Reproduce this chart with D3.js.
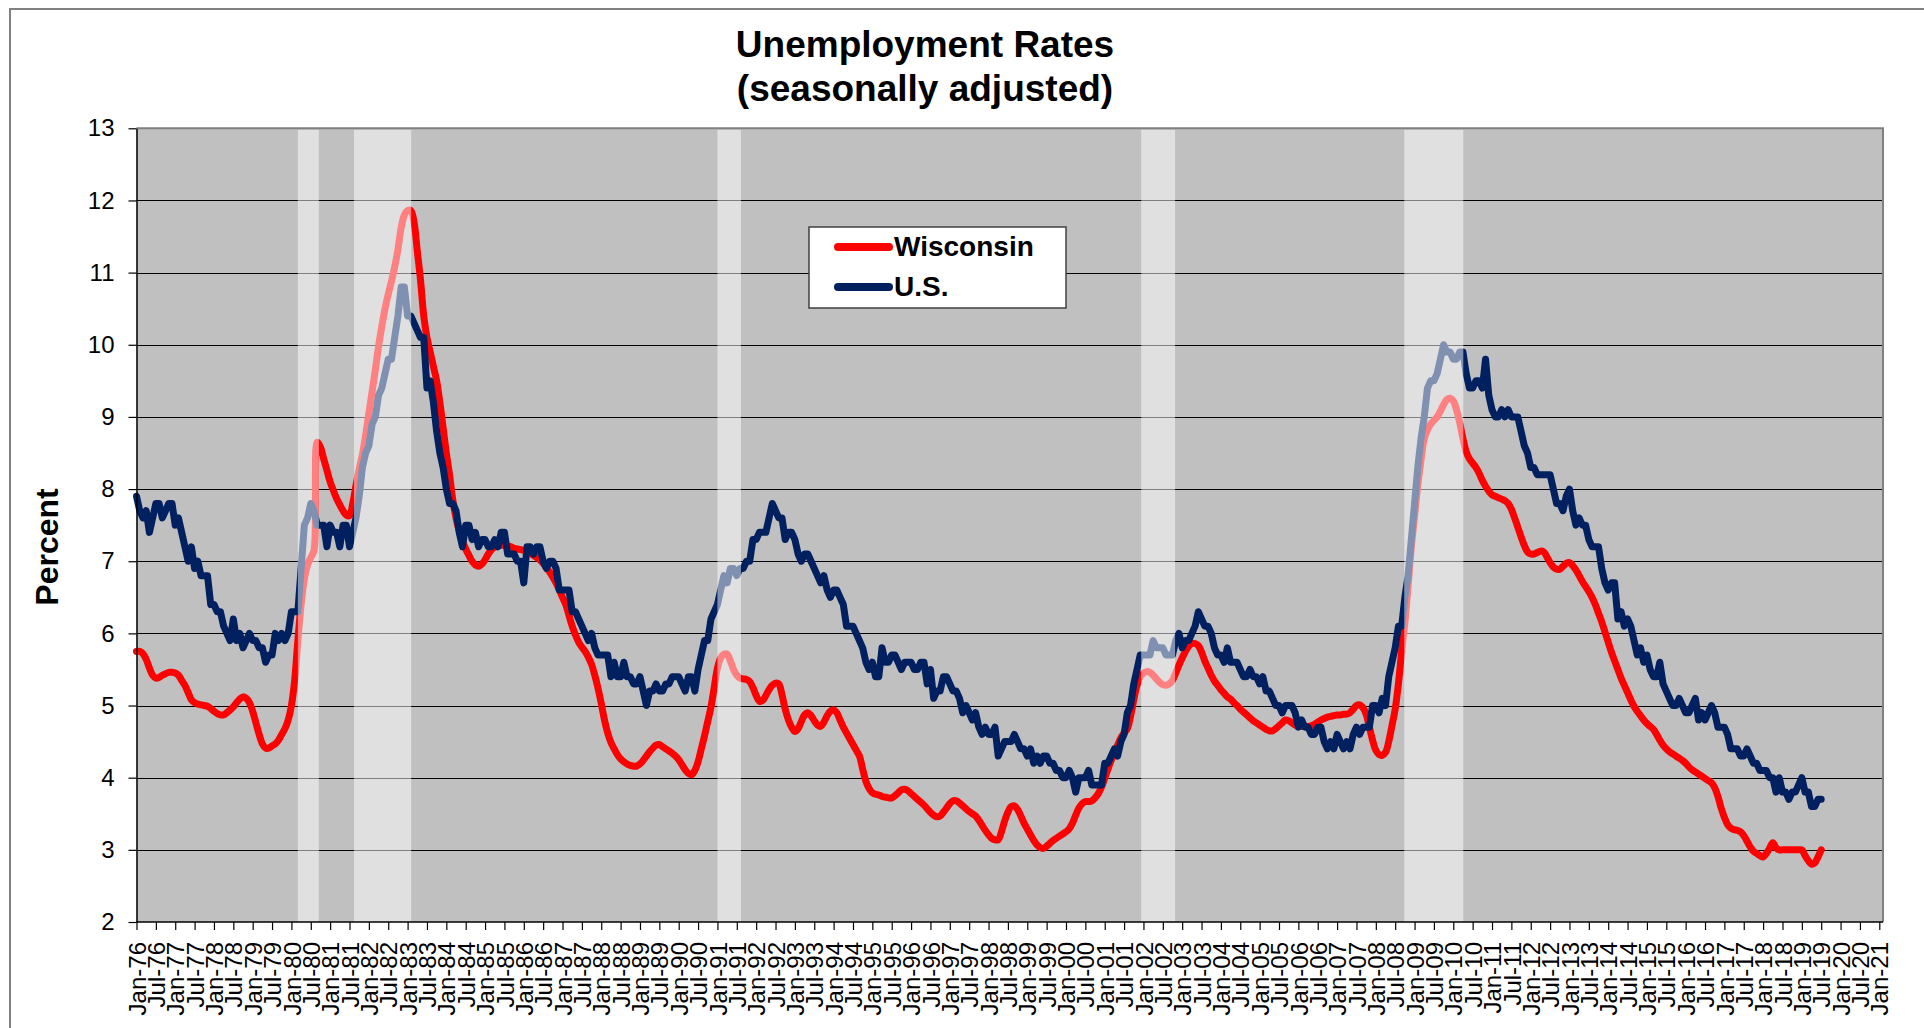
<!DOCTYPE html>
<html>
<head>
<meta charset="utf-8">
<script src="https://cdn.jsdelivr.net/npm/d3@7"></script>
<style>
html,body{margin:0;padding:0;background:#fff;overflow:hidden}
text{font-family:"Liberation Sans",Arial,Helvetica,sans-serif}
</style>
</head>
<body>
<svg id="chart" width="1924" height="1028"></svg>
<script>
// ---------------- DATA ----------------
const startYear = 1976;              // first month of the series = Jan-76
const seriesNames = ["Wisconsin", "U.S."];

// Wisconsin, monthly, Jan-76 .. Jul-19
const wisconsin = [
  5.75,5.75,5.72,5.64,5.52,5.42,5.38,5.39,5.42,5.44,5.46,5.46,
  5.45,5.42,5.35,5.28,5.18,5.08,5.04,5.02,5.01,5.00,4.99,4.96,
  4.92,4.89,4.87,4.87,4.90,4.94,4.98,5.04,5.09,5.12,5.10,5.04,
  4.92,4.76,4.60,4.47,4.41,4.41,4.44,4.47,4.52,4.60,4.68,4.80,
  5.00,5.35,5.90,6.40,6.75,6.95,7.05,7.15,8.65,8.58,8.42,8.26,
  8.10,7.98,7.87,7.78,7.70,7.64,7.63,7.80,8.05,8.28,8.48,8.75,
  9.05,9.35,9.65,9.98,10.25,10.50,10.70,10.88,11.08,11.32,11.62,11.80,
  11.86,11.86,11.70,11.30,10.90,10.40,10.10,9.90,9.70,9.50,9.20,8.85,
  8.50,8.20,7.85,7.60,7.42,7.28,7.17,7.08,7.00,6.95,6.93,6.96,
  7.02,7.10,7.16,7.20,7.22,7.22,7.22,7.21,7.20,7.18,7.17,7.16,
  7.15,7.13,7.11,7.08,7.05,7.02,6.97,6.91,6.85,6.78,6.70,6.60,
  6.50,6.40,6.25,6.10,5.98,5.88,5.81,5.75,5.67,5.57,5.42,5.24,
  5.03,4.80,4.62,4.49,4.40,4.32,4.26,4.22,4.19,4.17,4.16,4.16,
  4.19,4.24,4.30,4.36,4.41,4.45,4.46,4.43,4.40,4.37,4.34,4.30,
  4.25,4.18,4.11,4.06,4.04,4.10,4.22,4.40,4.58,4.78,4.98,5.25,
  5.52,5.66,5.71,5.71,5.62,5.50,5.42,5.38,5.37,5.36,5.33,5.25,
  5.14,5.06,5.07,5.14,5.22,5.28,5.31,5.30,5.15,4.95,4.80,4.70,
  4.64,4.68,4.78,4.87,4.90,4.86,4.79,4.73,4.71,4.77,4.86,4.92,
  4.94,4.90,4.80,4.70,4.62,4.54,4.46,4.38,4.30,4.12,3.95,3.85,
  3.79,3.77,3.76,3.74,3.73,3.72,3.72,3.75,3.79,3.83,3.84,3.82,
  3.78,3.74,3.70,3.66,3.62,3.57,3.52,3.48,3.46,3.47,3.52,3.58,
  3.64,3.68,3.68,3.65,3.61,3.57,3.53,3.50,3.47,3.41,3.34,3.27,
  3.21,3.16,3.14,3.14,3.25,3.40,3.52,3.60,3.61,3.56,3.47,3.37,
  3.29,3.21,3.13,3.07,3.03,3.02,3.05,3.09,3.13,3.16,3.19,3.22,
  3.25,3.29,3.37,3.48,3.58,3.64,3.67,3.67,3.68,3.72,3.78,3.87,
  3.99,4.12,4.24,4.34,4.45,4.55,4.62,4.68,4.85,5.08,5.28,5.40,
  5.45,5.47,5.46,5.42,5.37,5.32,5.29,5.28,5.30,5.35,5.45,5.56,
  5.66,5.75,5.82,5.86,5.86,5.83,5.74,5.62,5.52,5.42,5.34,5.28,
  5.22,5.17,5.12,5.09,5.04,5.00,4.95,4.91,4.87,4.83,4.79,4.76,
  4.73,4.70,4.67,4.65,4.65,4.68,4.72,4.76,4.80,4.79,4.76,4.73,
  4.71,4.71,4.71,4.71,4.72,4.74,4.77,4.80,4.82,4.84,4.85,4.86,
  4.87,4.87,4.88,4.88,4.90,4.95,5.00,5.01,4.97,4.88,4.70,4.52,
  4.38,4.32,4.31,4.35,4.50,4.72,4.95,5.30,5.75,6.15,6.65,7.20,
  7.62,8.05,8.40,8.70,8.82,8.90,8.95,9.00,9.08,9.17,9.24,9.26,
  9.22,9.10,8.92,8.70,8.52,8.42,8.36,8.30,8.22,8.12,8.04,7.97,
  7.92,7.90,7.88,7.86,7.84,7.80,7.72,7.60,7.47,7.34,7.22,7.13,
  7.10,7.10,7.12,7.14,7.13,7.06,6.98,6.92,6.89,6.89,6.93,6.97,
  6.98,6.94,6.88,6.80,6.72,6.65,6.58,6.50,6.40,6.28,6.16,6.02,
  5.88,5.74,5.62,5.50,5.38,5.28,5.18,5.08,4.99,4.92,4.86,4.80,
  4.75,4.71,4.67,4.60,4.52,4.45,4.40,4.36,4.33,4.30,4.27,4.24,
  4.20,4.15,4.11,4.08,4.05,4.02,3.99,3.96,3.93,3.86,3.74,3.58,
  3.45,3.35,3.30,3.28,3.27,3.25,3.20,3.12,3.04,2.98,2.95,2.92,
  2.90,2.95,3.02,3.10,3.03,3.00,3.00,3.00,3.00,3.00,3.00,3.00,
  3.00,2.92,2.85,2.80,2.82,2.90,3.00
];

// U.S., monthly, Jan-76 .. Jul-19
const unitedStates = [
  7.9,7.7,7.6,7.7,7.4,7.6,7.8,7.8,7.6,7.7,7.8,7.8,
  7.5,7.6,7.4,7.2,7.0,7.2,6.9,7.0,6.8,6.8,6.8,6.4,
  6.4,6.3,6.3,6.1,6.0,5.9,6.2,5.9,6.0,5.8,5.9,6.0,
  5.9,5.9,5.8,5.8,5.6,5.7,5.7,6.0,5.9,6.0,5.9,6.0,
  6.3,6.3,6.3,6.9,7.5,7.6,7.8,7.7,7.5,7.5,7.5,7.2,
  7.5,7.4,7.4,7.2,7.5,7.5,7.2,7.4,7.6,7.9,8.3,8.5,
  8.6,8.9,9.0,9.3,9.4,9.6,9.8,9.8,10.1,10.4,10.8,10.8,
  10.4,10.4,10.3,10.2,10.1,10.1,9.4,9.5,9.2,8.8,8.5,8.3,
  8.0,7.8,7.8,7.7,7.4,7.2,7.5,7.5,7.3,7.4,7.2,7.3,
  7.3,7.2,7.2,7.3,7.2,7.4,7.4,7.1,7.1,7.1,7.0,7.0,
  6.7,7.2,7.2,7.1,7.2,7.2,7.0,6.9,7.0,7.0,6.9,6.6,
  6.6,6.6,6.6,6.3,6.3,6.2,6.1,6.0,5.9,6.0,5.8,5.7,
  5.7,5.7,5.7,5.4,5.6,5.4,5.4,5.6,5.4,5.4,5.3,5.3,
  5.4,5.2,5.0,5.2,5.2,5.3,5.2,5.2,5.3,5.3,5.4,5.4,
  5.4,5.3,5.2,5.4,5.4,5.2,5.5,5.7,5.9,5.9,6.2,6.3,
  6.4,6.6,6.8,6.7,6.9,6.9,6.8,6.9,6.9,7.0,7.0,7.3,
  7.3,7.4,7.4,7.4,7.6,7.8,7.7,7.6,7.6,7.3,7.4,7.4,
  7.3,7.1,7.0,7.1,7.1,7.0,6.9,6.8,6.7,6.8,6.6,6.5,
  6.6,6.6,6.5,6.4,6.1,6.1,6.1,6.0,5.9,5.8,5.6,5.5,
  5.6,5.4,5.4,5.8,5.6,5.6,5.7,5.7,5.6,5.5,5.6,5.6,
  5.6,5.5,5.5,5.6,5.6,5.3,5.5,5.1,5.2,5.2,5.4,5.4,
  5.3,5.2,5.2,5.1,4.9,5.0,4.9,4.8,4.9,4.7,4.6,4.7,
  4.6,4.6,4.7,4.3,4.4,4.5,4.5,4.5,4.6,4.5,4.4,4.4,
  4.3,4.4,4.2,4.3,4.2,4.3,4.3,4.2,4.2,4.1,4.1,4.0,
  4.0,4.1,4.0,3.8,4.0,4.0,4.0,4.1,3.9,3.9,3.9,3.9,
  4.2,4.2,4.3,4.4,4.3,4.5,4.6,4.9,5.0,5.3,5.5,5.7,
  5.7,5.7,5.7,5.9,5.8,5.8,5.8,5.7,5.7,5.7,5.9,6.0,
  5.8,5.9,5.9,6.0,6.1,6.3,6.2,6.1,6.1,6.0,5.8,5.7,
  5.7,5.6,5.8,5.6,5.6,5.6,5.5,5.4,5.4,5.5,5.4,5.4,
  5.3,5.4,5.2,5.2,5.1,5.0,5.0,4.9,5.0,5.0,5.0,4.9,
  4.7,4.8,4.7,4.7,4.6,4.6,4.7,4.7,4.5,4.4,4.5,4.4,
  4.6,4.5,4.4,4.5,4.4,4.6,4.7,4.6,4.7,4.7,4.7,5.0,
  5.0,4.9,5.1,5.0,5.4,5.6,5.8,6.1,6.1,6.5,6.8,7.3,
  7.8,8.3,8.7,9.0,9.4,9.5,9.5,9.6,9.8,10.0,9.9,9.9,
  9.8,9.8,9.9,9.9,9.6,9.4,9.4,9.5,9.5,9.4,9.8,9.3,
  9.1,9.0,9.0,9.1,9.0,9.1,9.0,9.0,9.0,8.8,8.6,8.5,
  8.3,8.3,8.2,8.2,8.2,8.2,8.2,8.0,7.8,7.8,7.7,7.9,
  8.0,7.7,7.5,7.6,7.5,7.5,7.3,7.2,7.2,7.2,6.9,6.7,
  6.6,6.7,6.7,6.2,6.3,6.1,6.2,6.1,5.9,5.7,5.8,5.6,
  5.7,5.5,5.4,5.4,5.6,5.3,5.2,5.1,5.0,5.0,5.1,5.0,
  4.9,4.9,5.0,5.1,4.8,4.9,4.8,4.9,5.0,4.9,4.7,4.7,
  4.7,4.6,4.4,4.4,4.4,4.3,4.3,4.4,4.3,4.2,4.2,4.1,
  4.1,4.1,4.0,4.0,3.8,4.0,3.8,3.8,3.7,3.8,3.8,3.9,
  4.0,3.8,3.8,3.6,3.6,3.7,3.7
];

// shaded bands, as [start, end] in months after Jan-76
const bandStarts = [50.0, 67.4, 180.0, 311.3, 392.8];
const bandEnds   = [56.5, 85.1, 187.3, 321.8, 411.1];

// axes
const yTicks = [2,3,4,5,6,7,8,9,10,11,12,13];
const xTickMonths = d3.range(0, 541, 6);          // Jan-76 .. Jan-21, every 6 months
const xTickLabels = xTickMonths.map(m =>
  (m % 12 === 0 ? "Jan" : "Jul") + "-" + String((startYear + Math.floor(m / 12)) % 100).padStart(2, "0"));

// ---------------- DRAWING ----------------
const svg = d3.select("#chart");
const P = {left: 136.5, right: 1883, top: 128.3, bottom: 922};

const x = d3.scaleLinear().domain([0, 540]).range([136.5, 1879.3]);
const y = d3.scaleLinear().domain([2, 13]).range([P.bottom, P.top]);

// outer chart frame
svg.append("rect").attr("x", 10).attr("y", 9).attr("width", 1940).attr("height", 1050)
  .attr("fill", "#fff").attr("stroke", "#808080").attr("stroke-width", 2);

// plot area
svg.append("rect").attr("x", P.left).attr("y", P.top)
  .attr("width", P.right - P.left).attr("height", P.bottom - P.top).attr("fill", "#C0C0C0");

// gridlines
svg.append("g").selectAll("line").data(yTicks.filter(v => v > 2 && v < 13)).join("line")
  .attr("x1", P.left).attr("x2", P.right)
  .attr("y1", d => Math.round(y(d)) + 0.5).attr("y2", d => Math.round(y(d)) + 0.5)
  .attr("stroke", "#000").attr("stroke-width", 1);

// series lines
const wiLine = d3.line().x((d, i) => x(i)).y(d => y(d)).curve(d3.curveCatmullRom.alpha(0.5));
const usLine = d3.line().x((d, i) => x(i)).y(d => y(d));

svg.append("path").datum(wisconsin).attr("d", wiLine)
  .attr("fill", "none").attr("stroke", "#FF0000").attr("stroke-width", 7)
  .attr("stroke-linejoin", "round").attr("stroke-linecap", "round");
svg.append("path").datum(unitedStates).attr("d", usLine)
  .attr("fill", "none").attr("stroke", "#002060").attr("stroke-width", 7)
  .attr("stroke-linejoin", "round").attr("stroke-linecap", "round");

// translucent bands (drawn over the lines, fading them)
svg.append("g").selectAll("rect").data(d3.range(bandStarts.length)).join("rect")
  .attr("x", i => x(bandStarts[i])).attr("width", i => x(bandEnds[i]) - x(bandStarts[i]))
  .attr("y", P.top + 1.5).attr("height", P.bottom - P.top - 1.5)
  .attr("fill", "#fff").attr("fill-opacity", 0.5);

// plot border (top & right)
svg.append("path")
  .attr("d", `M${P.left},${P.top}H${P.right}V${P.bottom}`)
  .attr("fill", "none").attr("stroke", "#808080").attr("stroke-width", 2);

// y axis
const yAxis = svg.append("g").attr("transform", `translate(${P.left},0)`)
  .call(d3.axisLeft(y).tickValues(yTicks).tickSize(8).tickSizeOuter(0).tickPadding(14));
yAxis.select(".domain").attr("stroke", "#000").attr("stroke-width", 1.5);
yAxis.selectAll(".tick line").attr("stroke", "#000").attr("stroke-width", 1.2);
yAxis.selectAll(".tick text").attr("font-size", 24).attr("fill", "#000")
  .attr("font-family", "'Liberation Sans',Arial,sans-serif");

// x axis
const xAxis = svg.append("g").attr("transform", `translate(0,${P.bottom})`)
  .call(d3.axisBottom(x).tickValues(xTickMonths)
    .tickFormat((d, i) => xTickLabels[i]).tickSize(8).tickSizeOuter(0));
xAxis.select(".domain").remove();
xAxis.append("line").attr("x1", P.left).attr("x2", P.right).attr("y1", 0).attr("y2", 0)
  .attr("stroke", "#000").attr("stroke-width", 1.5);
xAxis.selectAll(".tick line").attr("stroke", "#000").attr("stroke-width", 1.2);
xAxis.selectAll(".tick text")
  .attr("font-size", 24).attr("fill", "#000")
  .attr("font-family", "'Liberation Sans',Arial,sans-serif")
  .attr("transform", "rotate(-90)")
  .attr("x", -20).attr("y", 0).attr("dy", "0.36em")
  .style("text-anchor", "end");

// titles
const title = svg.append("g").attr("font-weight", "bold").attr("font-size", 37)
  .attr("text-anchor", "middle").attr("fill", "#000");
title.append("text").attr("x", 925).attr("y", 57).text("Unemployment Rates");
title.append("text").attr("x", 925).attr("y", 101).text("(seasonally adjusted)");

svg.append("text").attr("transform", "translate(58,547) rotate(-90)")
  .attr("text-anchor", "middle").attr("font-weight", "bold").attr("font-size", 32)
  .attr("fill", "#000").text("Percent");

// legend
const legend = svg.append("g");
legend.append("rect").attr("x", 809).attr("y", 227).attr("width", 257).attr("height", 81)
  .attr("fill", "#fff").attr("stroke", "#404040").attr("stroke-width", 1.5);
const legColors = ["#FF0000", "#002060"];
const legY = [247, 287];
seriesNames.forEach((name, i) => {
  legend.append("line").attr("x1", 838).attr("x2", 889).attr("y1", legY[i]).attr("y2", legY[i])
    .attr("stroke", legColors[i]).attr("stroke-width", 8).attr("stroke-linecap", "round");
  legend.append("text").attr("x", 894).attr("y", legY[i] + 9)
    .attr("font-size", 28).attr("font-weight", "bold").attr("fill", "#000").text(name);
});
</script>
</body>
</html>
